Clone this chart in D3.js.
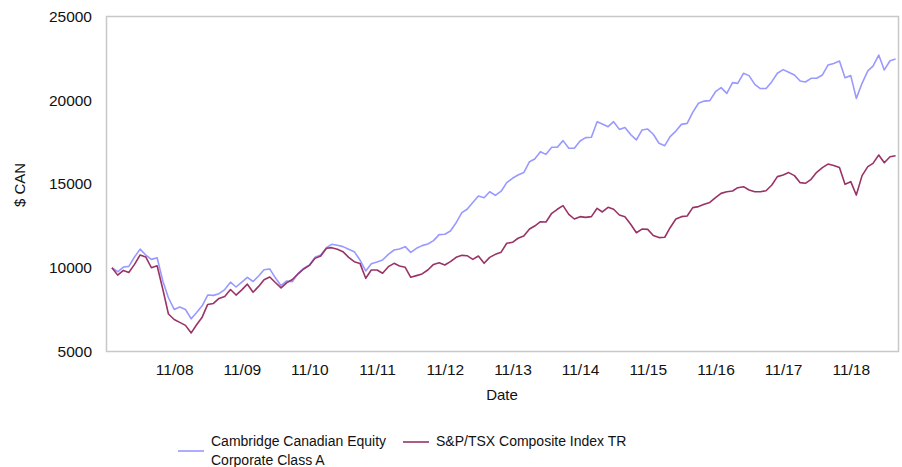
<!DOCTYPE html>
<html>
<head>
<meta charset="utf-8">
<script src="https://cdn.jsdelivr.net/npm/d3@7"></script>
<style>
  html, body { margin: 0; padding: 0; background: #fff; }
  svg { display: block; font-family: "Liberation Sans", Arial, sans-serif; }
</style>
</head>
<body>
<svg id="chart" width="902" height="467"></svg>
<script>
// Growth of $10,000, monthly, Dec 2007 – Jul 2019
const startMonth = new Date(2007, 11, 1);

const fundValues = [
  10000, 9760, 10040, 10080, 10640, 11110, 10760, 10500, 10600, 9200,
  8210, 7510, 7650, 7510, 6950, 7310, 7730, 8370, 8350, 8450,
  8700, 9140, 8850, 9140, 9430, 9180, 9520, 9880, 9930, 9400,
  8930, 9210, 9170, 9660, 9965, 10160, 10620, 10760, 11200, 11400,
  11340, 11260, 11100, 10960, 10460, 9810, 10240, 10340, 10460, 10800,
  11060, 11120, 11260, 10920, 11160, 11320, 11420, 11620, 11980, 12000,
  12190, 12690, 13290, 13490, 13890, 14280, 14180, 14540, 14320, 14570,
  15080, 15340, 15540, 15680, 16330, 16490, 16930, 16770, 17190, 17190,
  17590, 17130, 17130, 17570, 17770, 17790, 18720, 18580, 18420, 18720,
  18260, 18380, 17950, 17630, 18220, 18280, 17970, 17430, 17290, 17830,
  18160, 18560, 18620, 19280, 19820, 19950, 19980, 20510, 20750, 20410,
  21050, 21010, 21610, 21470, 20950, 20700, 20700, 21110, 21610, 21830,
  21670, 21510, 21150, 21090, 21310, 21310, 21510, 22100, 22200, 22340,
  21350, 21470, 20110, 21010, 21750, 22040, 22700, 21810, 22360, 22460
];

const indexValues = [
  10000, 9560, 9840, 9720, 10200, 10760, 10640, 10000, 10120, 8700,
  7240, 6910, 6740, 6560, 6110, 6580, 7050, 7810, 7870, 8170,
  8290, 8700, 8370, 8680, 9020, 8540, 8900, 9280, 9450, 9120,
  8800, 9100, 9300, 9640, 9925, 10140, 10560, 10700, 11160, 11200,
  11100, 10960, 10620, 10360, 10260, 9370, 9866, 9866, 9670, 10065,
  10264, 10105, 10025, 9430, 9530, 9630, 9866, 10200, 10300, 10165,
  10364, 10620, 10740, 10720, 10500, 10700, 10264, 10620, 10800, 10930,
  11460, 11520, 11760, 11900, 12310, 12490, 12750, 12730, 13250, 13490,
  13710, 13190, 12910, 13050, 13010, 13050, 13550, 13330, 13610, 13490,
  13150, 13050, 12600, 12090, 12310, 12290, 11920, 11800, 11820, 12390,
  12910, 13050, 13090, 13590, 13650, 13790, 13900, 14180, 14440, 14540,
  14580, 14780, 14840, 14640, 14540, 14540, 14600, 14940, 15440, 15540,
  15680, 15500, 15080, 15040, 15280, 15700, 15980, 16190, 16100, 15980,
  14980, 15140, 14340, 15500, 16040, 16230, 16730, 16270, 16630, 16690
];

const xTickLabels = ["11/08", "11/09", "11/10", "11/11", "11/12", "11/13",
                     "11/14", "11/15", "11/16", "11/17", "11/18"];
const yTickValues = [5000, 10000, 15000, 20000, 25000];

const seriesNames = ["Cambridge Canadian Equity\nCorporate Class A", "S&P/TSX Composite Index TR"];
const seriesColors = ["#9999ff", "#993366"];

const months = fundValues.map((_, i) => d3.timeMonth.offset(startMonth, i));
const tickDates = xTickLabels.map(s => {
  const [m, y] = s.split("/").map(Number);
  return new Date(2000 + y, m - 1, 1);
});

const svg = d3.select("#chart");
const plot = { left: 106, right: 898, top: 16.5, bottom: 351.5 };

// a little padding either side of the data inside the frame
const x = d3.scaleTime()
  .domain([d3.timeDay.offset(months[0], -32), d3.timeDay.offset(months[months.length - 1], 13)])
  .range([plot.left, plot.right]);
const y = d3.scaleLinear().domain([5000, 25000]).range([plot.bottom, plot.top]);

// frame
svg.append("rect")
  .attr("x", plot.left + 0.5).attr("y", plot.top)
  .attr("width", plot.right - plot.left).attr("height", plot.bottom - plot.top)
  .attr("fill", "none").attr("stroke", "#c8c8c8").attr("stroke-width", 1.5);

// axes (labels only)
const yAxis = d3.axisLeft(y).tickValues(yTickValues).tickSize(0).tickPadding(14).tickFormat(d3.format("d"));
svg.append("g").attr("transform", `translate(${plot.left},0)`).call(yAxis)
  .call(g => g.select(".domain").remove())
  .selectAll("text").attr("font-size", 15.5).attr("fill", "#111")
  .attr("font-family", "Liberation Sans, Arial, sans-serif");

const xAxis = d3.axisBottom(x).tickValues(tickDates).tickSize(0).tickPadding(12)
  .tickFormat((d, i) => xTickLabels[i]);
svg.append("g").attr("transform", `translate(0,${plot.bottom})`).call(xAxis)
  .call(g => g.select(".domain").remove())
  .selectAll("text").attr("font-size", 15.5).attr("fill", "#111")
  .attr("font-family", "Liberation Sans, Arial, sans-serif");

// axis titles
svg.append("text").attr("transform", "translate(25,185) rotate(-90)")
  .attr("text-anchor", "middle").attr("font-size", 15).attr("fill", "#111").text("$ CAN");
svg.append("text").attr("x", 502).attr("y", 400)
  .attr("text-anchor", "middle").attr("font-size", 15).attr("fill", "#111").text("Date");

// series lines
const line = d3.line().x((d, i) => x(months[i])).y(d => y(d));
[fundValues, indexValues].forEach((vals, k) => {
  svg.append("path").datum(vals)
    .attr("fill", "none").attr("stroke", seriesColors[k])
    .attr("stroke-width", 1.6).attr("stroke-linejoin", "round")
    .attr("d", line);
});

// legend
const legendItems = [
  { x: 178, lineY: 451, textY: 446, color: seriesColors[0], lines: seriesNames[0].split("\n") },
  { x: 403, lineY: 442, textY: 446, color: seriesColors[1], lines: seriesNames[1].split("\n") }
];
legendItems.forEach(item => {
  svg.append("line")
    .attr("x1", item.x).attr("x2", item.x + 26)
    .attr("y1", item.lineY).attr("y2", item.lineY)
    .attr("stroke", item.color).attr("stroke-width", 1.6);
  const t = svg.append("text").attr("x", item.x + 33).attr("y", item.textY)
    .attr("font-size", 14).attr("fill", "#111");
  item.lines.forEach((s, j) => {
    t.append("tspan").attr("x", item.x + 33).attr("dy", j === 0 ? 0 : 19).text(s);
  });
});
</script>
</body>
</html>
